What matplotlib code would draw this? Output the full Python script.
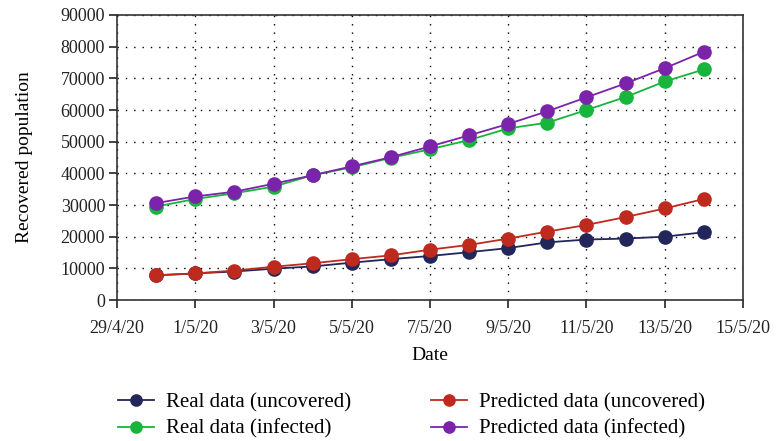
import pandas as pd
import matplotlib
matplotlib.use('Agg')
import matplotlib.pyplot as plt
from matplotlib.ticker import FuncFormatter

plt.rcParams['font.family'] = ['Liberation Serif', 'DejaVu Serif']

dates = pd.date_range('2020-04-30', '2020-05-14', freq='D')
tick_dates = pd.date_range('2020-04-29', '2020-05-15', freq='2D')

real_uncovered = [7800, 8400, 9000, 9900, 10600, 11800, 12900, 13900,
                  15100, 16400, 18200, 19100, 19400, 20000, 21400]
pred_uncovered = [7800, 8400, 9300, 10500, 11600, 12900, 14100, 15900,
                  17400, 19400, 21600, 23700, 26200, 28900, 31900]
real_infected = [29500, 31900, 33700, 35800, 39400, 41900, 44900, 47600,
                 50500, 54200, 56000, 60000, 64100, 69000, 72800]
pred_infected = [30600, 32700, 34200, 36700, 39400, 42200, 45100, 48500,
                 52000, 55600, 59600, 64000, 68400, 73200, 78400]

series = [
    ('Real data (uncovered)', real_uncovered, '#22265a'),
    ('Real data (infected)', real_infected, '#17b53b'),
    ('Predicted data (uncovered)', pred_uncovered, '#bf2a1f'),
    ('Predicted data (infected)', pred_infected, '#7b23ab'),
]

fig = plt.figure(figsize=(7.78, 4.41), dpi=100)
ax = fig.add_axes([0.1504, 0.3197, 0.8046, 0.6463])

for name, vals, col in series:
    ax.plot(dates, vals, color=col, marker='o', markersize=9.5, lw=1.3,
            label=name)

ax.set_xlim(pd.Timestamp('2020-04-29'), pd.Timestamp('2020-05-15'))
ax.set_xticks(tick_dates)
ax.xaxis.set_major_formatter(FuncFormatter(
    lambda v, p: '{}/{}/20'.format(matplotlib.dates.num2date(v).day,
                                   matplotlib.dates.num2date(v).month)))
ax.set_ylim(0, 90000)
ax.set_yticks(range(0, 90001, 10000))

ax.grid(True, color='black', linestyle=(0, (1, 5)), linewidth=1.0)
ax.tick_params(direction='out', length=5.5, width=1.2, labelsize=13,
               colors='#222222', pad=3)
ax.tick_params(axis='x', pad=9)
for s in ax.spines.values():
    s.set_linewidth(1.2)
    s.set_color('#333333')

ax.set_xlabel('Date', fontsize=14, labelpad=7)
ax.set_ylabel('Recovered population', fontsize=14, labelpad=20)

fig.legend(loc='upper left', bbox_to_anchor=(0.1404, 0.128), ncol=2,
           borderaxespad=0, frameon=False, fontsize=15, handlelength=1.73,
           handletextpad=0.58, columnspacing=3.85, labelspacing=0.33,
           markerscale=0.85)

fig.savefig('out.png', dpi=100)
